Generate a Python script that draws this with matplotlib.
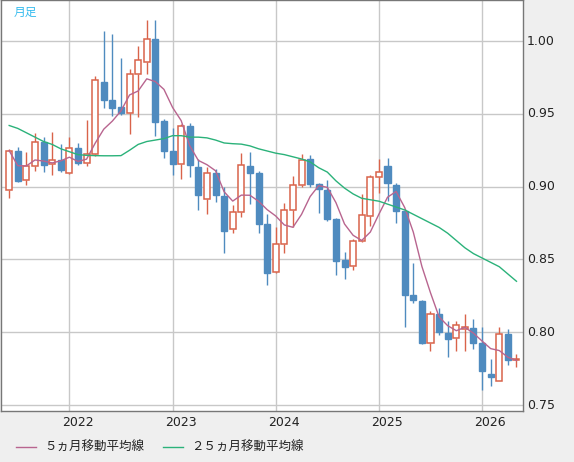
import matplotlib
matplotlib.use("Agg")
import matplotlib.pyplot as plt
import matplotlib.transforms as mtransforms
import numpy as np
import pandas as pd

plt.rcParams['font.family'] = ['Noto Sans CJK JP', 'DejaVu Sans']

# Monthly candles Jun 2021 .. May 2026
opens = [0.8977,0.9247,0.9046,0.9144,0.9308,0.9155,0.9185,0.9094,0.9267,0.9162,
         0.9224,0.9719,0.9596,0.9548,0.9509,0.9772,0.9858,1.0011,0.9452,0.9247,
         0.9153,0.9416,0.9137,0.8913,0.9096,0.8938,0.8710,0.8826,0.9144,0.9096,
         0.8744,0.8413,0.8607,0.8840,0.9011,0.9189,0.9018,0.8979,0.8779,0.8493,
         0.8452,0.8630,0.8795,0.9066,0.9140,0.9011,0.8835,0.8258,0.8217,0.7928,
         0.8122,0.7993,0.7957,0.8025,0.8032,0.7925,0.7715,0.7665,0.7986,0.7810]
closes = [0.9247,0.9041,0.9139,0.9306,0.9146,0.9183,0.9112,0.9265,0.9160,0.9224,
          0.9731,0.9594,0.9543,0.9509,0.9772,0.9868,1.0011,0.9447,0.9242,0.9153,
          0.9416,0.9146,0.8943,0.9096,0.8945,0.8694,0.8826,0.9148,0.9091,0.8740,
          0.8406,0.8607,0.8840,0.9011,0.9183,0.9018,0.8984,0.8779,0.8489,0.8447,
          0.8630,0.8806,0.9068,0.9104,0.9027,0.8830,0.8253,0.8224,0.7925,0.8122,
          0.8002,0.7952,0.8052,0.8039,0.7923,0.7731,0.7692,0.7986,0.7810,0.7812]
highs = [0.9258,0.9274,0.9240,0.9368,0.9338,0.9372,0.9292,0.9342,0.9297,0.9459,
         0.9760,1.0068,1.0050,0.9886,0.9806,0.9966,1.0148,1.0148,0.9463,0.9406,
         0.9429,0.9434,0.9189,0.9137,0.9121,0.9000,0.8877,0.9228,0.9240,0.9110,
         0.8813,0.8726,0.8886,0.9073,0.9224,0.9219,0.9023,0.9046,0.8785,0.8550,
         0.8642,0.8950,0.9082,0.9192,0.9197,0.9027,0.8846,0.8473,0.8224,0.8145,
         0.8167,0.8077,0.8077,0.8122,0.8088,0.8036,0.7817,0.8036,0.8020,0.7851]
lows = [0.8922,0.9030,0.9011,0.9110,0.9098,0.9080,0.9098,0.9087,0.9146,0.9144,
        0.9212,0.9543,0.9486,0.9493,0.9365,0.9475,0.9776,0.9349,0.9194,0.9078,
        0.9053,0.9064,0.8842,0.8813,0.8893,0.8543,0.8680,0.8790,0.8881,0.8680,
        0.8322,0.8406,0.8543,0.8721,0.8995,0.9000,0.8817,0.8763,0.8393,0.8368,
        0.8429,0.8619,0.8733,0.8959,0.8903,0.8749,0.8036,0.8201,0.7919,0.7873,
        0.7980,0.7828,0.7873,0.7873,0.7885,0.7602,0.7629,0.7665,0.7772,0.7760]
ma25 = [0.942,0.940,0.937,0.934,0.931,0.929,0.926,0.924,0.922,0.9215,
        0.9213,0.9212,0.9212,0.9213,0.925,0.929,0.931,0.932,0.933,0.935,
        0.935,0.934,0.934,0.9335,0.932,0.930,0.9295,0.9292,0.928,0.926,
        0.9245,0.923,0.922,0.9205,0.919,0.917,0.913,0.910,0.904,0.899,
        0.895,0.892,0.891,0.890,0.888,0.886,0.884,0.881,0.878,0.875,
        0.872,0.868,0.863,0.858,0.854,0.851,0.848,0.845,0.840,0.835]
year_labels = ['2022', '2023', '2024', '2025', '2026']
year_idx = [7, 19, 31, 43, 55]
yticks = [0.75, 0.80, 0.85, 0.90, 0.95, 1.00]
legend_labels = ['５ヵ月移動平均線', '２５ヵ月移動平均線']

UP = '#d9634a'
DOWN = '#4f8bbf'
C_MA5 = '#b8658f'
C_MA25 = '#2bb27a'

ma5 = pd.Series(closes).rolling(5, min_periods=1).mean().values
x = np.arange(len(opens))

fig = plt.figure(figsize=(5.74, 4.62), dpi=100, facecolor='#efefef')
ax = fig.add_axes([0.5/574, 51/462, 522/574, 411/462])
ax.set_facecolor('white')
ax.set_xlim(-1.01, 59.7)
ax.set_ylim(0.7459, 1.0282)

for v in yticks:
    ax.axhline(v, color='#c8c8c8', lw=1, zorder=0)
for i in year_idx:
    ax.axvline(i, color='#c8c8c8', lw=1, zorder=0)

w = 0.7
for i in x:
    o, c, h, l = opens[i], closes[i], highs[i], lows[i]
    if c >= o:
        ax.vlines(i, l, o, color=UP, lw=1, zorder=2)
        ax.vlines(i, c, h, color=UP, lw=1, zorder=2)
        ax.add_patch(plt.Rectangle((i - w/2, o), w, max(c - o, 0.0003), facecolor='white',
                                   edgecolor=UP, lw=1.1, zorder=3))
    else:
        ax.vlines(i, l, h, color=DOWN, lw=1, zorder=2)
        ax.add_patch(plt.Rectangle((i - w/2, c), w, o - c, facecolor=DOWN,
                                   edgecolor=DOWN, lw=1, zorder=3))

ax.plot(x, ma5, color=C_MA5, lw=1, zorder=4)
ax.plot(x, ma25, color=C_MA25, lw=1, zorder=4)

ax.set_xticks([]); ax.set_yticks([])
for s in ax.spines.values():
    s.set_color('#777777'); s.set_linewidth(1)

trans_y = mtransforms.blended_transform_factory(fig.transFigure, ax.transData)
for v in yticks:
    fig.text(527/574, v, f'{v:.2f}', transform=trans_y, ha='left', va='center',
             fontsize=9, color='#222222', family=['DejaVu Sans'])
trans_x = mtransforms.blended_transform_factory(ax.transData, fig.transFigure)
for i, lab in zip(year_idx, year_labels):
    fig.text(i + 0.95, 1 - 423/462, lab, transform=trans_x, ha='center', va='center',
             fontsize=9, color='#222222', family=['DejaVu Sans'])

fig.text(14/574, 1 - 12/462, '月足', fontsize=8.5, color='#33bbee', va='center')

# legend
ly = 1 - 447/462
fig.add_artist(plt.Line2D([16/574, 36/574], [ly, ly], color=C_MA5, lw=1))
fig.text(44/574, ly, '５ヵ月移動平均線', fontsize=9, va='center', color='#222222')
fig.add_artist(plt.Line2D([163/574, 183/574], [ly, ly], color=C_MA25, lw=1))
fig.text(191/574, ly, '２５ヵ月移動平均線', fontsize=9, va='center', color='#222222')

fig.savefig('out.png', dpi=100, facecolor=fig.get_facecolor())
